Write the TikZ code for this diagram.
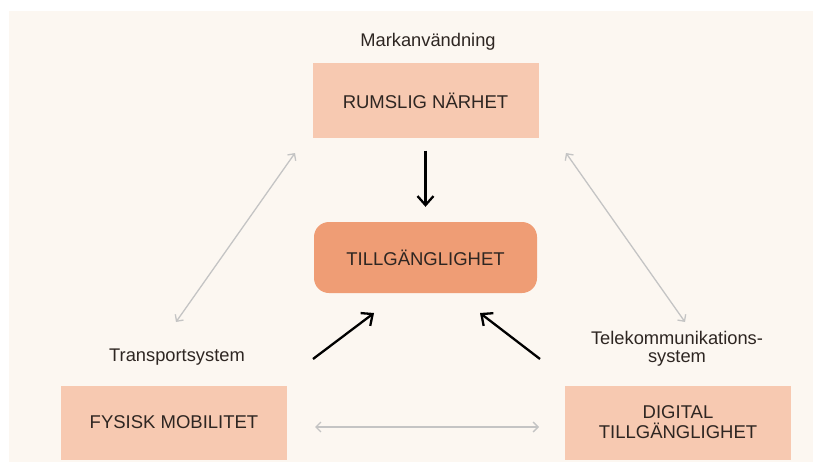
\documentclass[tikz,border=0pt]{standalone}
\usepackage{fontspec}
\setmainfont{Liberation Sans}
\usetikzlibrary{arrows.meta}

\definecolor{bgcream}{HTML}{FCF7F1}
\definecolor{boxlight}{HTML}{F7C9B1}
\definecolor{boxdark}{HTML}{EF9D75}
\definecolor{linkgray}{HTML}{C4C4C4}
\definecolor{textdark}{HTML}{2E2622}

\tikzset{
  factor/.style={fill=boxlight, minimum width=226pt, minimum height=74pt,
    inner sep=0pt, align=center, text=textdark,
    font=\fontsize{18.5}{20}\selectfont},
  core/.style={factor, fill=boxdark, rounded corners=15pt,
    minimum width=223pt, minimum height=71pt},
  system/.style={text=textdark, align=center,
    font=\fontsize{18.3}{18}\selectfont},
  effect/.style={-{Straight Barb[length=9pt,width=16pt]}, line width=2.3pt},
  mutual/.style={{Straight Barb[length=5pt,width=10pt]}-{Straight Barb[length=5pt,width=10pt]},
    linkgray, line width=1.3pt}
}

\begin{document}
\begin{tikzpicture}[x=1pt, y=-1pt]
  \useasboundingbox (0,0) rectangle (813,468);
  \fill[white] (0,0) rectangle (813,468);
  \fill[bgcream] (9,11) rectangle (813,462);

  % the three factors and the core
  \node[factor] (rumslig) at (425.5,100.5) {RUMSLIG NÄRHET};
  \node[core]   (tillg)   at (425.5,257.5) {TILLGÄNGLIGHET};
  \node[factor] (fysisk)  at (174,422.5)   {FYSISK MOBILITET};
  \node[factor] (digital) at (678,422.5)   {DIGITAL\\TILLGÄNGLIGHET};

  % system labels
  \node[system] (mark)  at (428,42)  {Markanvändning};
  \node[system] (trans) at (177,357) {Transportsystem};
  \node[system] (tele)  at (677,349) {Telekommunikations-\\system};

  % arrow ends
  \coordinate (fys-out)   at (313,359);
  \coordinate (til-in-l)  at (374,313);
  \coordinate (dig-out)   at (540,359);
  \coordinate (til-in-r)  at (480,313);
  \coordinate (rum-left)  at (295,153);
  \coordinate (fys-up)    at (176,322);
  \coordinate (rum-right) at (566,153);
  \coordinate (dig-up)    at (685,322);
  \coordinate (fys-right) at (315,427);
  \coordinate (dig-left)  at (539,427);

  \draw[effect] (rumslig) -- (tillg)
    [shorten <=13pt, shorten >=15pt];
  \draw[effect] (fys-out) -- (til-in-l);
  \draw[effect] (dig-out) -- (til-in-r);

  \draw[mutual] (fys-up) -- (rum-left);
  \draw[mutual] (dig-up) -- (rum-right);
  \draw[mutual] (fys-right) -- (dig-left);
\end{tikzpicture}
\end{document}
